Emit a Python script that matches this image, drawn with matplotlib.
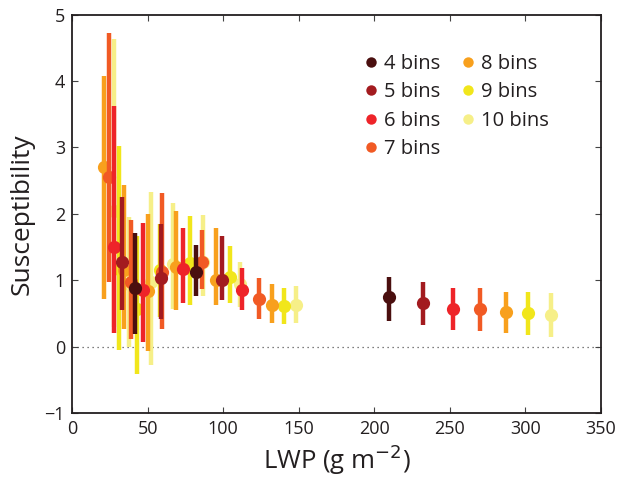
import matplotlib
matplotlib.use("Agg")
import matplotlib.pyplot as plt
from matplotlib.lines import Line2D
import numpy as np

plt.rcParams['font.family'] = ['Open Sans', 'DejaVu Sans']

labels = ["4 bins", "5 bins", "6 bins", "7 bins", "8 bins", "9 bins", "10 bins"]
colors = ["#4A0F0F", "#A31B1F", "#EE2429", "#F15A24", "#F8A01D", "#F1E61B", "#F6EF88"]

x4 = [41.8, 82.3, 209.6]
y4 = [0.88, 1.12, 0.74]
lo4 = [0.19, 0.76, 0.38]
hi4 = [1.71, 1.53, 1.05]

x5 = [33.0, 59.2, 99.1, 232.1]
y5 = [1.28, 1.04, 1.00, 0.66]
lo5 = [0.55, 0.41, 0.70, 0.32]
hi5 = [2.26, 1.84, 1.66, 0.98]

x6 = [27.9, 47.2, 73.5, 112.3, 252.1]
y6 = [1.50, 0.85, 1.17, 0.86, 0.57]
lo6 = [0.21, 0.07, 0.66, 0.55, 0.25]
hi6 = [3.62, 1.86, 1.78, 1.19, 0.89]

x7 = [24.7, 39.0, 59.5, 85.7, 123.5, 270.1]
y7 = [2.56, 0.97, 1.12, 1.28, 0.71, 0.56]
lo7 = [0.97, 0.11, 0.27, 0.87, 0.41, 0.23]
hi7 = [4.73, 1.90, 2.31, 1.76, 1.03, 0.89]

x8 = [21.4, 34.6, 50.6, 68.7, 95.1, 132.3, 286.9]
y8 = [2.71, 1.15, 0.84, 1.20, 1.00, 0.63, 0.52]
lo8 = [0.72, 0.26, -0.06, 0.55, 0.63, 0.35, 0.21]
hi8 = [4.07, 2.44, 2.00, 2.05, 1.78, 0.94, 0.83]

x9 = [31.3, 42.9, 58.3, 78.3, 104.6, 140.5, 301.4]
y9 = [1.17, 0.56, 1.15, 1.26, 1.05, 0.61, 0.51]
lo9 = [-0.05, -0.41, 0.45, 0.63, 0.65, 0.34, 0.18]
hi9 = [3.02, 1.67, 1.85, 1.97, 1.52, 0.88, 0.82]

x10 = [27.5, 37.9, 52.2, 66.5, 87.0, 111.2, 148.0, 317.0]
y10 = [2.04, 0.94, 0.97, 1.25, 1.27, 0.94, 0.63, 0.48]
lo10 = [0.30, 0.00, -0.28, 0.57, 0.76, 0.60, 0.35, 0.14]
hi10 = [4.64, 1.95, 2.33, 2.17, 1.98, 1.27, 0.91, 0.81]

series = [(x4, y4, lo4, hi4), (x5, y5, lo5, hi5), (x6, y6, lo6, hi6),
          (x7, y7, lo7, hi7), (x8, y8, lo8, hi8), (x9, y9, lo9, hi9),
          (x10, y10, lo10, hi10)]

fig = plt.figure(figsize=(6.19, 4.82), dpi=100)
ax = fig.add_axes([72 / 619, 0.1432, 529 / 619, 0.8263])

ax.plot([0, 350], [0, 0], linestyle=(0, (1, 3)), color="#555555", linewidth=0.9, zorder=1)

for i in reversed(range(len(series))):
    xs, ys, lo, hi = series[i]
    xs = np.array(xs); ys = np.array(ys); lo = np.array(lo); hi = np.array(hi)
    ax.errorbar(xs, ys, yerr=[ys - lo, hi - ys], fmt='o', color=colors[i],
                ecolor=colors[i], elinewidth=3.2, capsize=0, markersize=9.5,
                markeredgewidth=0, zorder=2 + (len(series) - i))

ax.set_xlim(0, 350)
ax.set_ylim(-1, 5)
ax.set_xticks(np.arange(0, 351, 50))
ax.set_yticks(np.arange(-1, 6, 1))
ax.set_yticklabels(["\u22121", "0", "1", "2", "3", "4", "5"])
ax.tick_params(direction='in', length=4, width=0.8, labelsize=13, labelcolor="#231F20",
               color="#444444", pad=5, top=True, right=True)
for s in ax.spines.values():
    s.set_color("#231F20")
    s.set_linewidth(1.3)

ax.set_xlabel("LWP (g m$^{-2}$)", fontsize=18.5, color="#231F20", labelpad=3)
ax.set_ylabel("Susceptibility", fontsize=19, color="#231F20", labelpad=7)

handles = [Line2D([], [], marker='o', linestyle='none', color=c, markersize=7.5,
                  markeredgewidth=0) for c in colors]
leg = ax.legend(handles, labels, ncol=2, loc='upper left',
                bbox_to_anchor=(357 / 619, 1 - 50 / 482), bbox_transform=fig.transFigure,
                frameon=False, fontsize=14.5, handletextpad=0.13, handlelength=1.0,
                columnspacing=0.9, labelspacing=0.42, borderaxespad=0, borderpad=0.2)
for t in leg.get_texts():
    t.set_color("#231F20")

fig.savefig("out.png", dpi=100)
